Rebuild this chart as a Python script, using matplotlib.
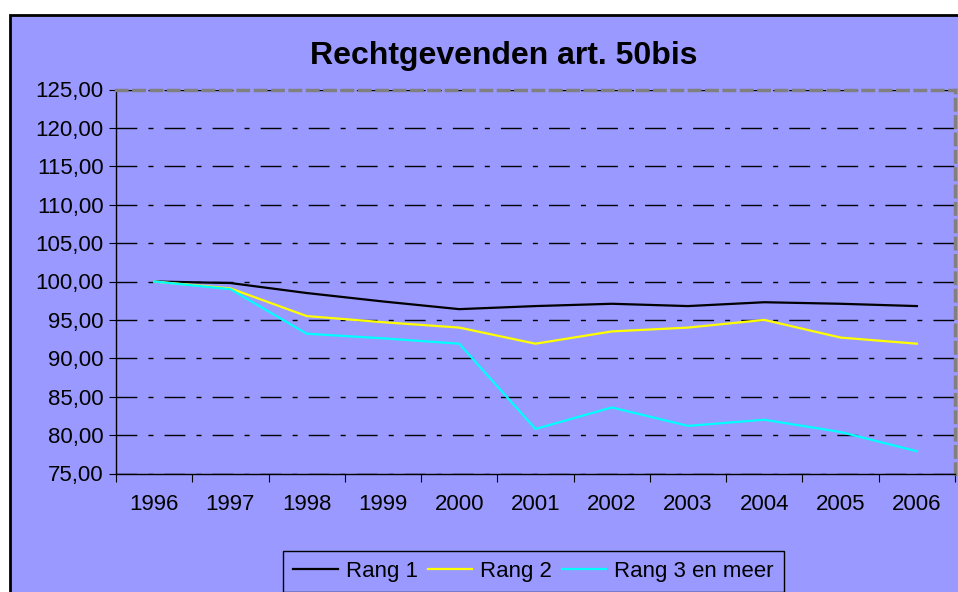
import matplotlib
matplotlib.use("Agg")
import matplotlib.pyplot as plt
from matplotlib.patches import Rectangle
from matplotlib.ticker import FuncFormatter

# %% Style
BG = "#9999FF"
GRID_DASH = (0, (15, 8, 3.6, 8))
plt.rcParams.update(
    {
        "font.family": ["Liberation Sans", "DejaVu Sans"],
        "font.size": 16,
    }
)

# %% Data
years = ["1996", "1997", "1998", "1999", "2000", "2001",
         "2002", "2003", "2004", "2005", "2006"]
rang1 = [100.0, 99.8, 98.5, 97.4, 96.4, 96.8, 97.1, 96.8, 97.3, 97.1, 96.8]
rang2 = [100.0, 99.1, 95.5, 94.7, 94.0, 91.9, 93.5, 94.0, 95.0, 92.7, 91.9]
rang3 = [100.0, 99.0, 93.2, 92.6, 91.9, 80.8, 83.6, 81.2, 82.0, 80.4, 77.9]
series_names = ["Rang 1", "Rang 2", "Rang 3 en meer"]
series_colors = ["#000000", "#FFFF00", "#00FFFF"]
y_ticks = [75, 80, 85, 90, 95, 100, 105, 110, 115, 120, 125]

# %% Plot
W, H = 958, 592
fig = plt.figure(figsize=(W / 100, H / 100), dpi=100)
fig.patch.set_facecolor("white")

# chart area frame
frame = Rectangle((10 / W, -0.05), 1.1, 1 - 15 / H + 0.05,
                  transform=fig.transFigure, facecolor=BG,
                  edgecolor="#000000", linewidth=2, zorder=0)
fig.add_artist(frame)

ax = fig.add_axes([116 / W, 1 - 473.5 / H, (955 - 116) / W, (473.5 - 89.5) / H])
ax.set_facecolor(BG)

x = list(range(len(years)))
for vals, name, col in zip([rang1, rang2, rang3], series_names, series_colors):
    ax.plot(x, vals, color=col, linewidth=1.6, label=name, zorder=3)

ax.set_xlim(-0.5, len(years) - 0.5)
ax.set_ylim(75, 125)
ax.set_yticks(y_ticks)
ax.yaxis.set_major_formatter(FuncFormatter(lambda v, p: f"{v:.2f}".replace(".", ",")))

# category ticks between years, labels centred
ax.set_xticks([i - 0.5 for i in range(len(years) + 1)])
ax.set_xticklabels([])
ax.set_xticks(x, minor=True)
ax.set_xticklabels(years, minor=True)
ax.tick_params(axis="x", which="major", length=6, direction="out", color="#000000")
ax.tick_params(axis="x", which="minor", length=0, pad=15, labelsize=16)
ax.tick_params(axis="y", length=5, direction="out", pad=4, labelsize=16)

ax.grid(axis="y", color="#000000", linestyle=GRID_DASH, linewidth=1)
ax.set_axisbelow(True)

for s in ["top", "right"]:
    ax.spines[s].set_color("#808080")
    ax.spines[s].set_linestyle((0, (3, 2)))
    ax.spines[s].set_linewidth(2.5)
for s in ["left", "bottom"]:
    ax.spines[s].set_color("#000000")
    ax.spines[s].set_linewidth(1)

fig.text(503.5 / W, 1 - 64 / H, "Rechtgevenden art. 50bis",
         ha="center", va="baseline", fontsize=23, fontweight="bold")

leg = fig.legend(loc="center", bbox_to_anchor=(533.5 / W, 1 - 571 / H),
                 ncol=3, frameon=True, fancybox=False, fontsize=16,
                 handlelength=2.0, handletextpad=0.35, columnspacing=0.45,
                 borderpad=0.45, borderaxespad=0)
leg.get_frame().set_facecolor(BG)
leg.get_frame().set_edgecolor("#000000")
leg.get_frame().set_linewidth(1)
leg.get_frame().set_alpha(1)

fig.savefig("out.png", dpi=100, facecolor="white")
